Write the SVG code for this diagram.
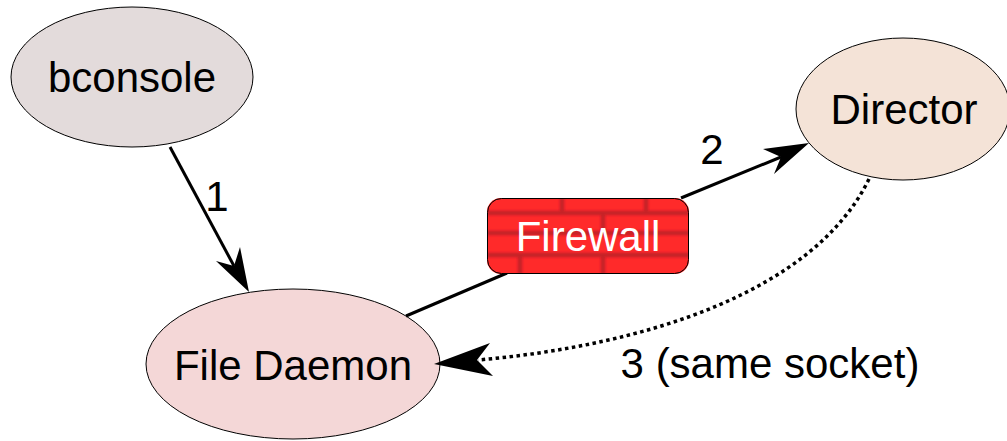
<svg xmlns="http://www.w3.org/2000/svg" width="1007" height="441" viewBox="0 0 1007 441">
<style>
text{font-family:"Liberation Sans",Arial,sans-serif;font-size:42px;fill:#000;text-anchor:middle}
.n{stroke:#000;stroke-width:1}
.c{fill:none;stroke:#000;stroke-width:3}
.h{fill:#000;stroke:none}
.b{stroke:#b81f25;fill:none;stroke-width:4.500;opacity:.8}
</style>
<defs><clipPath id="fw"><rect x="487" y="198" width="202" height="76" rx="14"/></clipPath>
<filter id="soft" x="-5%" y="-5%" width="110%" height="110%"><feGaussianBlur stdDeviation="0.800"/></filter></defs>
<g id="bconsole"><ellipse class="n" cx="132" cy="77" rx="121" ry="70" fill="#e3dbdb"/><text x="132" y="92">bconsole</text></g>
<g id="director"><ellipse class="n" cx="903" cy="109" rx="107" ry="71" fill="#f4e3d7"/><text x="904" y="124">Director</text></g>
<g id="filedaemon"><ellipse class="n" cx="293" cy="364" rx="147" ry="75" fill="#f4d7d7"/><text x="293" y="380">File Daemon</text></g>
<g id="connectors">
<path class="c" d="M170 147L234 266"/>
<polygon class="h" points="249,292 216,261 234,266 240,247"/>
<path class="c" d="M406 316L507 273"/>
<path class="c" d="M681 198L781 157"/>
<polygon class="h" points="809,143 763,149 781,157 774,174"/>
<path class="c" style="stroke-width:3.500" stroke-dasharray="3.500 3.500" d="M869 179C815 290 650 345 478 360"/>
<polygon class="h" points="434,364 490,343 477,360 493,376"/>
</g>
<g id="firewall">
<rect x="487" y="198" width="202" height="76" rx="14" fill="#ff2a2a"/>
<g clip-path="url(#fw)"><g filter="url(#soft)">
<path class="b" d="M487 213H689M487 233H689M487 255H689M562 198V213M646 198V213M603 213V233M520 255V274M603 255V274"/>
</g></g>
<rect x="487.500" y="198.500" width="201" height="75" rx="14" fill="none" stroke="#000"/>
<text x="588" y="251" style="fill:#fff">Firewall</text>
</g>
<text x="217" y="211">1</text>
<text x="712" y="164">2</text>
<text x="770" y="378">3 (same socket)</text>
</svg>
